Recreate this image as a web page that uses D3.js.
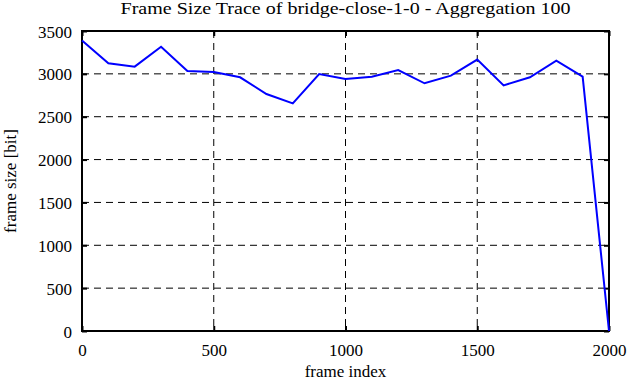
<!DOCTYPE html>
<html>
<head>
<meta charset="utf-8">
<script src="https://cdn.jsdelivr.net/npm/d3@7"></script>
<style>
  body { margin: 0; background: #fff; }
  svg text { font-family: "Liberation Serif", "Times New Roman", serif; fill: #000; }
</style>
</head>
<body>
<div id="chart"></div>
<script>
// frame size trace, aggregated every 100 frames
const frameIndex = [0, 100, 200, 300, 400, 500, 600, 700, 800, 900, 1000,
    1100, 1200, 1300, 1400, 1500, 1600, 1700, 1800, 1900, 2000];
const frameSize = [3390, 3123, 3084, 3317, 3033, 3022, 2960, 2765, 2656, 2998, 2940,
    2967, 3045, 2890, 2979, 3166, 2866, 2960, 3154, 2967, 0];
const xTicks = [0, 500, 1000, 1500, 2000];
const yTicks = [0, 500, 1000, 1500, 2000, 2500, 3000, 3500];

const W = 631, H = 382;
const margin = {top: 31, right: 22, bottom: 51, left: 82};
const width = W - margin.left - margin.right
    ,height = H - margin.top - margin.bottom;

const x = d3.scaleLinear().domain([0, 2000]).range([0, width]);
const y = d3.scaleLinear().domain([0, 3500]).range([height, 0]);

const svg = d3.select('#chart').append('svg').attr('width', W).attr('height', H);
const g = svg.append('g').attr('transform', 'translate(' + margin.left + ',' + margin.top + ')');

// dashed grid
g.append('g').selectAll('line').data(xTicks.slice(1, -1)).enter().append('line')
    .attr('x1', d => x(d)).attr('x2', d => x(d)).attr('y1', 0).attr('y2', height)
    .attr('stroke', '#000').attr('stroke-width', 1).attr('stroke-dasharray', '7,5');
g.append('g').selectAll('line').data(yTicks.slice(1, -1)).enter().append('line')
    .attr('x1', 0).attr('x2', width).attr('y1', d => y(d)).attr('y2', d => y(d))
    .attr('stroke', '#000').attr('stroke-width', 1).attr('stroke-dasharray', '7,5');

// axes with inward ticks
const fmt = d3.format('d');
const xAxis = d3.axisBottom(x).tickValues(xTicks).tickFormat(fmt).tickSizeInner(-5).tickSizeOuter(0).tickPadding(13);
const yAxis = d3.axisLeft(y).tickValues(yTicks).tickFormat(fmt).tickSizeInner(-5).tickSizeOuter(0).tickPadding(10);
const xTop = d3.axisTop(x).tickValues(xTicks).tickSizeInner(-5).tickSizeOuter(0).tickFormat('');
const yRight = d3.axisRight(y).tickValues(yTicks).tickSizeInner(-5).tickSizeOuter(0).tickFormat('');

g.append('g').attr('class', 'x axis').attr('transform', 'translate(0,' + height + ')').call(xAxis);
g.append('g').attr('class', 'y axis').call(yAxis);
g.append('g').call(xTop);
g.append('g').attr('transform', 'translate(' + width + ',0)').call(yRight);
g.selectAll('.domain').remove();
g.selectAll('.tick line').attr('stroke', '#000').attr('stroke-width', 2);
g.selectAll('.axis').attr('font-family', '"Liberation Serif", serif').attr('font-size', 17);
g.selectAll('.y.axis .tick text').attr('dy', '0.36em');

// frame border
g.append('rect').attr('width', width).attr('height', height)
    .attr('fill', 'none').attr('stroke', '#000').attr('stroke-width', 2);

const line = d3.line()
    .x((d, i) => x(frameIndex[i]))
    .y(d => y(d));

g.append('path').attr('d', line(frameSize))
    .attr('fill', 'none').attr('stroke', '#0000ff').attr('stroke-width', 2);

svg.append('text').attr('x', margin.left + width / 2).attr('y', 14)
    .attr('text-anchor', 'middle').attr('font-size', 17)
    .attr('textLength', 450).attr('lengthAdjust', 'spacingAndGlyphs')
    .text('Frame Size Trace of bridge-close-1-0 - Aggregation 100');
svg.append('text').attr('x', margin.left + width / 2).attr('y', 377)
    .attr('text-anchor', 'middle').attr('font-size', 17).text('frame index');
svg.append('text').attr('transform', 'translate(16,' + (margin.top + height / 2) + ') rotate(-90)')
    .attr('text-anchor', 'middle').attr('font-size', 17).text('frame size [bit]');
</script>
</body>
</html>
